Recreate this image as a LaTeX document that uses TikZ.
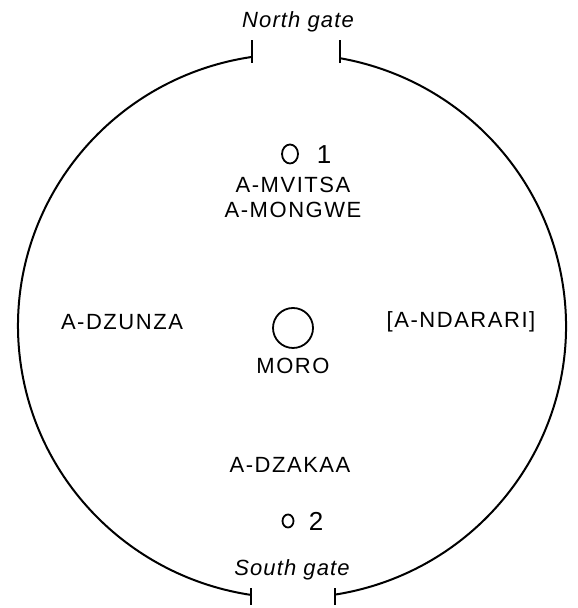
\documentclass[tikz,border=0pt]{standalone}
\usepackage{fontspec}
\setmainfont{Liberation Sans}
\newfontfamily\lbl[LetterSpace=7]{Liberation Sans}
\newfontfamily\gatefont[LetterSpace=5]{Liberation Sans}
\usetikzlibrary{calc,shapes.geometric}
\tikzset{
  wall/.style={line width=1pt},
  nm/.style={font=\lbl\fontsize{11}{13}\selectfont,inner sep=0pt},
  gt/.style={font=\gatefont\itshape\fontsize{11}{13}\selectfont,inner sep=0pt},
  hut/.style={draw,ellipse,line width=0.9pt,inner sep=0pt},
  every picture/.style={line width=0.5pt},
}
\begin{document}
\begin{tikzpicture}[x=0.5pt,y=0.5pt]
\useasboundingbox (0,0) rectangle (577,608);
\coordinate (O) at (292,282);
\coordinate (nl) at ($(O)+(98.4:274 and 272)$); \coordinate (nr) at ($(O)+(79.9:274 and 272)$);
\coordinate (sl) at ($(O)+(261.3:274 and 272)$); \coordinate (sr) at ($(O)+(279:274 and 272)$);
% enclosure wall with the two gates
\draw[wall] (nl) arc[start angle=98.4, end angle=261.3, x radius=274, y radius=272];
\draw[wall] (sr) arc[start angle=279, end angle=439.9, x radius=274, y radius=272];
\draw[wall] ($(nl)+(0,-6)$) -- ++(0,23); \draw[wall] ($(nr)+(0,-5)$) -- ++(0,23);
\draw[wall] ($(sl)+(0,-10)$) -- ++(0,17); \draw[wall] ($(sr)+(0,-10)$) -- ++(0,17);
\node[gt] (north) at (298,586){North gate}; \node[gt] (south) at (292,38){South gate};
% huts and quarters
\node[hut,minimum width=8pt,minimum height=9.5pt] (h1) at (290,454){};
\node[nm,font=\lbl\fontsize{13}{15}\selectfont] (n1) at (324,453){1};
\node[nm] (mvitsa) at (293,423){A-MVITSA}; \node[nm] (mongwe) at (293,398){A-MONGWE};
\node[hut,circle,minimum size=20pt] (moro) at (293,280){}; \node[nm] (morot) at (293,242){MORO};
\node[nm] (dzunza) at (122,286){A-DZUNZA}; \node[nm] (ndarari) at (461,286){[A-NDARARI]};
\node[nm] (dzakaa) at (290,143){A-DZAKAA};
\node[hut,minimum width=5.5pt,minimum height=6.5pt] (h2) at (288,87){};
\node[nm,font=\lbl\fontsize{13}{15}\selectfont] (n2) at (316,87){2};
\end{tikzpicture}
\end{document}
